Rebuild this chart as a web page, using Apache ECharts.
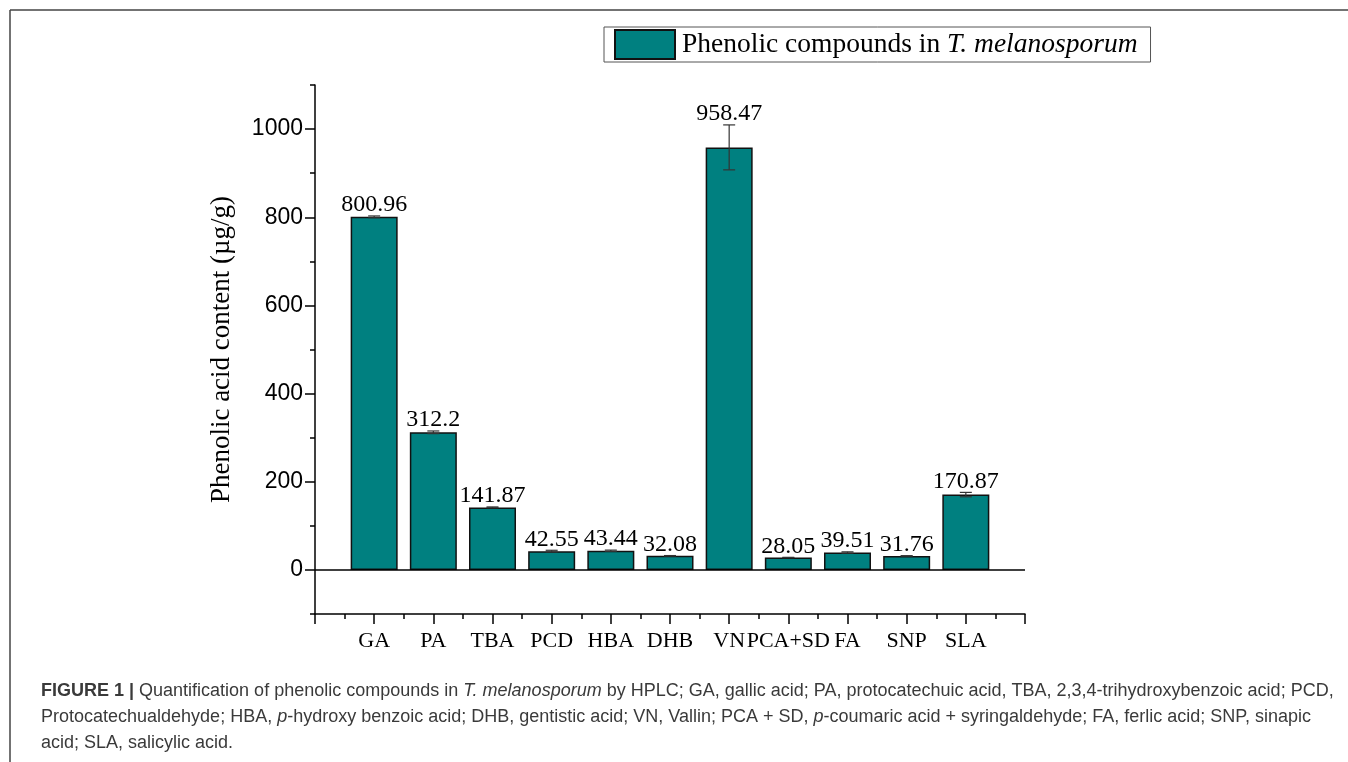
<!DOCTYPE html>
<html>
<head>
<meta charset="utf-8">
<script src="https://cdn.jsdelivr.net/npm/echarts@6/dist/echarts.min.js"></script>
<style>
html,body{margin:0;padding:0;background:#fff;}
#main{width:1348px;height:762px;}
</style>
</head>
<body>
<div id="main"></div>
<script>
const categories = ['GA','PA','TBA','PCD','HBA','DHB','VN','PCA+SD','FA','SNP','SLA'];
const values = [800.96, 312.2, 141.87, 42.55, 43.44, 32.08, 958.47, 28.05, 39.51, 31.76, 170.87];
const errors = [2, 3, 1, 2, 1.5, 0.5, 51, 0.5, 1.5, 0.5, 5];
const yMajorTicks = [0, 200, 400, 600, 800, 1000];
const seriesName = 'Phenolic compounds in T. melanosporum';

const barData = values.map((v, i) => [i + 1, v]);
const errData = values.map((v, i) => [i + 1, v, errors[i]]);

const serif = '"Liberation Serif","Times New Roman",serif';
const sans = '"Liberation Sans",Arial,sans-serif';
const capFont = '"Liberation Sans Narrow","Liberation Sans",Arial,sans-serif';
const capColor = '#3a3a3a';
const capSize = 18;

const chart = echarts.init(document.getElementById('main'));
chart.setOption({
  backgroundColor: '#fff',
  animation: false,
  grid: { left: 315, right: 323, top: 85, bottom: 148 },
  legend: {
    left: 604, top: 27,
    padding: [2, 13, 2, 10],
    icon: 'rect',
    itemWidth: 60, itemHeight: 29, itemGap: 0,
    borderColor: '#555', borderWidth: 1,
    data: [seriesName],
    formatter: () => '{r|Phenolic compounds in }{i|T. melanosporum}',
    textStyle: {
      padding: [0, 0, 0, 2],
      rich: {
        r: { fontFamily: serif, fontSize: 27.5, color: '#000' },
        i: { fontFamily: serif, fontSize: 27.5, fontStyle: 'italic', color: '#000' }
      }
    }
  },
  xAxis: {
    type: 'value', min: 0, max: 12, interval: 1,
    axisLine: { show: true, onZero: false, lineStyle: { color: '#000', width: 1.5 } },
    axisTick: { show: true, length: 10, lineStyle: { color: '#000', width: 1.5 } },
    minorTick: { show: true, splitNumber: 2, length: 5, lineStyle: { color: '#000', width: 1.5 } },
    axisLabel: {
      margin: 16, fontFamily: serif, fontSize: 22, color: '#000',
      formatter: v => categories[v - 1] || ''
    },
    splitLine: { show: false }, minorSplitLine: { show: false }
  },
  yAxis: [
    {
      type: 'value', min: -100, max: 1100, interval: 100,
      axisLine: { show: true, onZero: false, lineStyle: { color: '#000', width: 1.5 } },
      axisTick: { show: true, length: 5, lineStyle: { color: '#000', width: 1.5 } },
      axisLabel: {
        margin: 12, fontFamily: sans, fontSize: 23, color: '#000',
        formatter: v => (yMajorTicks.indexOf(v) >= 0 ? String(v) : '')
      },
      splitLine: { show: false },
      name: 'Phenolic acid content (µg/g)',
      nameLocation: 'middle', nameGap: 80,
      nameTextStyle: { fontFamily: serif, fontSize: 27, color: '#000' }
    },
    {
      type: 'value', min: -100, max: 1100, interval: 100, position: 'left',
      axisLine: { show: false, onZero: false },
      axisTick: { show: true, length: 10, customValues: yMajorTicks, lineStyle: { color: '#000', width: 1.5 } },
      axisLabel: { show: false },
      splitLine: { show: false }
    }
  ],
  series: [
    {
      name: seriesName,
      type: 'bar',
      barWidth: 47,
      data: barData,
      itemStyle: { color: '#008080', borderColor: '#111', borderWidth: 1.5 },
      markLine: {
        silent: true, symbol: 'none',
        label: { show: false },
        lineStyle: { color: '#000', width: 1.5, type: 'solid' },
        data: [{ yAxis: 0 }]
      }
    },
    {
      name: 'err',
      type: 'custom',
      data: errData,
      z: 5,
      renderItem: function (params, api) {
        const x = api.value(0), v = api.value(1), e = api.value(2);
        const top = api.coord([x, v + e]);
        const bot = api.coord([x, v - e]);
        const hw = 6;
        const st = { stroke: '#333', lineWidth: 1.2 };
        return {
          type: 'group',
          children: [
            { type: 'line', shape: { x1: top[0], y1: top[1], x2: bot[0], y2: bot[1] }, style: st },
            { type: 'line', shape: { x1: top[0] - hw, y1: top[1], x2: top[0] + hw, y2: top[1] }, style: st },
            { type: 'line', shape: { x1: bot[0] - hw, y1: bot[1], x2: bot[0] + hw, y2: bot[1] }, style: st },
            { type: 'text', x: top[0], y: top[1] + 1,
              style: { text: String(v), textAlign: 'center', textVerticalAlign: 'bottom',
                       font: '24px ' + serif, fill: '#000' } }
          ]
        };
      }
    }
  ],
  graphic: [
    { type: 'line', shape: { x1: 10, y1: 10, x2: 1348, y2: 10 }, style: { stroke: '#444', lineWidth: 1.5 } },
    { type: 'line', shape: { x1: 10, y1: 10, x2: 10, y2: 762 }, style: { stroke: '#444', lineWidth: 1.5 } },
    { type: 'text', left: 41, top: 682,
      style: { text: '{b|FIGURE 1 | }Quantification of phenolic compounds in {i|T. melanosporum} by HPLC; GA, gallic acid; PA, protocatechuic acid, TBA, 2,3,4-trihydroxybenzoic acid; PCD,',
        fontFamily: capFont, fontSize: capSize, fill: capColor,
        rich: { b: { fontWeight: 'bold', fontFamily: capFont, fontSize: capSize, fill: capColor },
                i: { fontStyle: 'italic', fontFamily: capFont, fontSize: capSize, fill: capColor } } } },
    { type: 'text', left: 41, top: 708,
      style: { text: 'Protocatechualdehyde; HBA, {i|p}-hydroxy benzoic acid; DHB, gentistic acid; VN, Vallin; PCA + SD, {i|p}-coumaric acid + syringaldehyde; FA, ferlic acid; SNP, sinapic',
        fontFamily: capFont, fontSize: capSize, fill: capColor,
        rich: { i: { fontStyle: 'italic', fontFamily: capFont, fontSize: capSize, fill: capColor } } } },
    { type: 'text', left: 41, top: 734,
      style: { text: 'acid; SLA, salicylic acid.', fontFamily: capFont, fontSize: capSize, fill: capColor } }
  ]
});
</script>
</body>
</html>
